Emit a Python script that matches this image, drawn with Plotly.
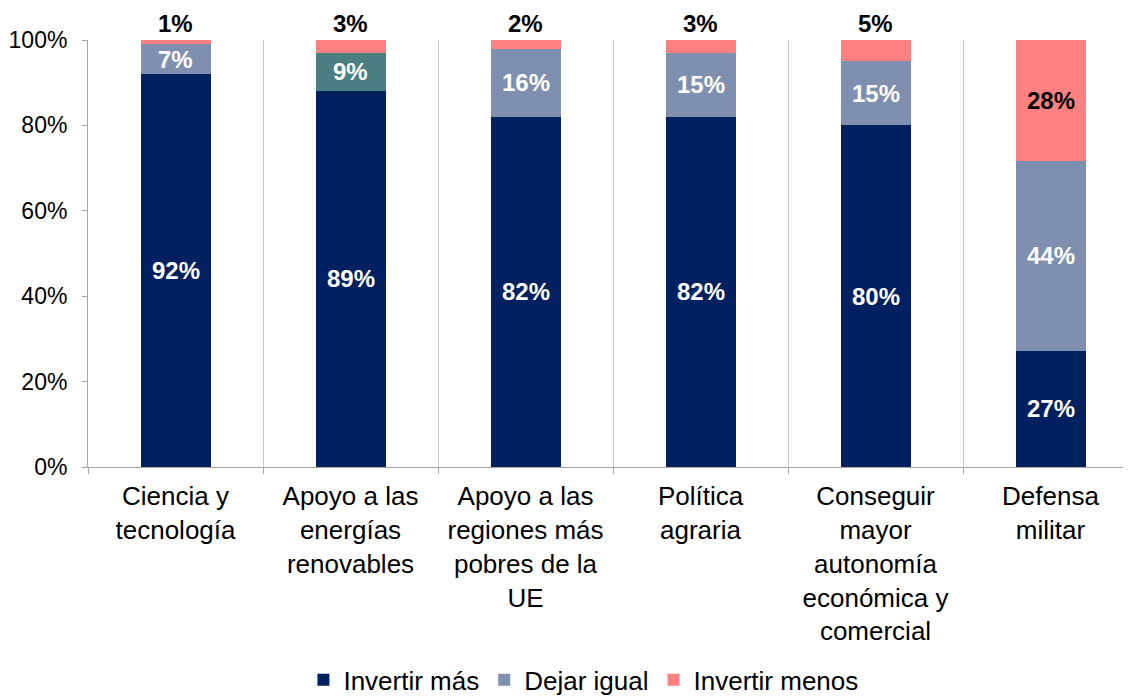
import plotly.graph_objects as go

categories = [
    "Ciencia y<br>tecnología",
    "Apoyo a las<br>energías<br>renovables",
    "Apoyo a las<br>regiones más<br>pobres de la<br>UE",
    "Política<br>agraria",
    "Conseguir<br>mayor<br>autonomía<br>económica y<br>comercial",
    "Defensa<br>militar",
]
invertir_mas = [92, 89, 82, 82, 80, 27]
dejar_igual = [7, 9, 16, 15, 15, 44]
invertir_menos = [1, 3, 2, 3, 5, 28]
y_ticks = [0, 20, 40, 60, 80, 100]

NAVY = "#002060"
GREY = "#7f8faf"
SALMON = "#ff8080"
TEAL = "#4a7e83"
FONT = "Liberation Sans, Arial, sans-serif"
FS_LAB = 24
FS_CAT = 26
FS_TICK = 23
FS_LEG = 26

series = [
    ("Invertir más", invertir_mas, [NAVY] * len(categories)),
    ("Dejar igual", dejar_igual, [TEAL if i == 1 else GREY for i in range(len(categories))]),
    ("Invertir menos", invertir_menos, [SALMON] * len(categories)),
]

fig = go.Figure()
for name, vals, cols in series:
    fig.add_trace(go.Bar(
        name=name, x=categories, y=vals,
        marker=dict(color=cols, line=dict(width=0)),
        width=0.4, hoverinfo="x+y+name",
    ))

# data labels, positioned via data coordinates (normalized stack)
totals = [a + b + c for a, b, c in zip(invertir_mas, dejar_igual, invertir_menos)]
for i, cat in enumerate(categories):
    base = 0.0
    for s_idx, (name, vals, cols) in enumerate(series):
        v = vals[i]
        share = 100.0 * v / totals[i]
        if s_idx == 2 and v < 10:
            fig.add_annotation(x=cat, y=100, text=f"<b>{v}%</b>", showarrow=False,
                               yanchor="bottom", yshift=2, borderpad=0,
                               font=dict(color="black", size=FS_LAB, family=FONT))
        else:
            color = "black" if s_idx == 2 else "white"
            fig.add_annotation(x=cat, y=base + share / 2, text=f"<b>{v}%</b>",
                               showarrow=False, yanchor="middle",
                               font=dict(color=color, size=FS_LAB, family=FONT))
        base += share

fig.update_layout(
    barmode="stack", barnorm="percent",
    width=1123, height=689,
    margin=dict(l=80, r=0, t=32, b=230, autoexpand=False),
    paper_bgcolor="white", plot_bgcolor="white",
    font=dict(family=FONT, size=FS_CAT, color="black"),
    showlegend=True,
    legend=dict(orientation="h", x=0.475, xanchor="center",
                yref="container", y=0.025, yanchor="middle",
                font=dict(size=FS_LEG, family=FONT, color="black"),
                traceorder="normal", itemwidth=30),
)
fig.update_xaxes(
    type="category", range=[-0.5, 5.46], tickson="boundaries",
    showgrid=True, gridcolor="#c8c8c8", gridwidth=1,
    ticks="outside", ticklen=6, tickcolor="#a6a6a6",
    showline=True, linecolor="#a6a6a6", linewidth=1,
    tickfont=dict(size=FS_CAT, family=FONT, color="black"),
    ticklabelstandoff=6, automargin=False,
)
fig.update_yaxes(
    range=[0, 100], tickvals=y_ticks, ticktext=[f"{v}%" for v in y_ticks],
    showgrid=False, zeroline=False,
    ticks="outside", ticklen=5, tickcolor="#a6a6a6",
    showline=True, linecolor="#a6a6a6", linewidth=1,
    tickfont=dict(size=FS_TICK, family=FONT, color="black"),
    ticklabelstandoff=10, automargin=False,
)

fig.write_html("out.html")
